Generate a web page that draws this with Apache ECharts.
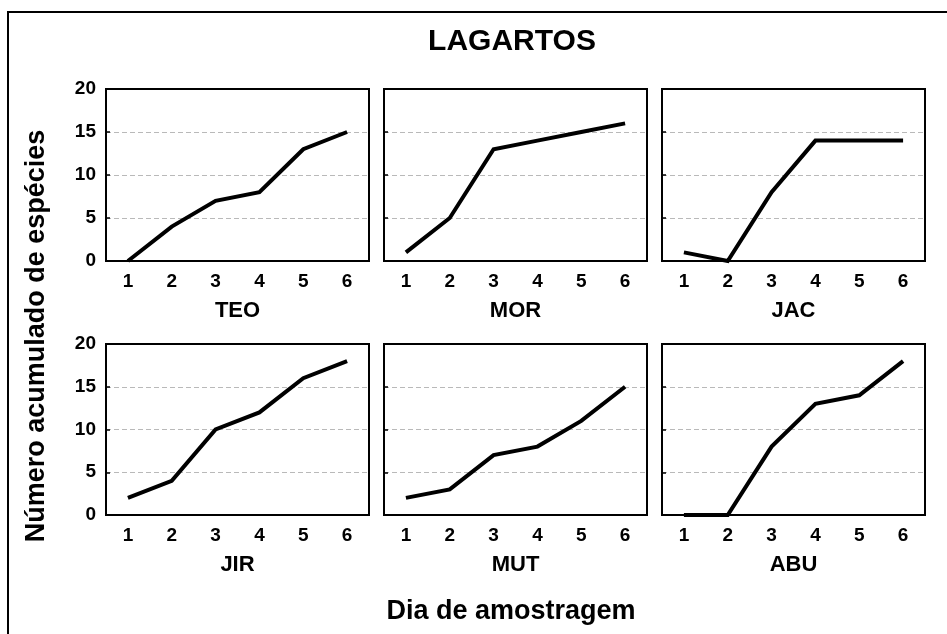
<!DOCTYPE html>
<html>
<head>
<meta charset="utf-8">
<title>LAGARTOS</title>
<script src="https://cdn.jsdelivr.net/npm/echarts@6/dist/echarts.min.js"></script>
<style>
  html, body { margin: 0; padding: 0; background: #fff; }
  #chart { width: 947px; height: 634px; }
</style>
</head>
<body>
<div id="chart"></div>
<script>
// Sampling days (x categories) and the six sites
const days = ['1', '2', '3', '4', '5', '6'];
const sites = ['TEO', 'MOR', 'JAC', 'JIR', 'MUT', 'ABU'];

// Cumulative number of lizard species per sampling day
const teo = [0, 4, 7, 8, 13, 15];
const mor = [1, 5, 13, 14, 15, 16];
const jac = [1, 0, 8, 14, 14, 14];
const jir = [2, 4, 10, 12, 16, 18];
const mut = [2, 3, 7, 8, 11, 15];
const abu = [0, 0, 8, 13, 14, 18];

// Y axis scale
const yMin = 0;
const yMax = 20;
const yStep = 5;

const title = 'LAGARTOS';
const xTitle = 'Dia de amostragem';
const yTitle = 'Número acumulado de espécies';

const values = [teo, mor, jac, jir, mut, abu];

const FONT = '"Liberation Sans", Arial, Helvetica, sans-serif';
const colLeft = [106, 384, 662];
const rowTop = [89, 344];
const panelW = 263;
const panelH = 172;

const grids = [], xAxes = [], yAxes = [], series = [];
sites.forEach((name, i) => {
  const col = i % 3, row = Math.floor(i / 3);
  grids.push({
    left: colLeft[col], top: rowTop[row], width: panelW, height: panelH - row,
    show: true, borderColor: '#000', borderWidth: 2, backgroundColor: 'transparent'
  });
  xAxes.push({
    type: 'category', gridIndex: i, data: days, boundaryGap: true,
    axisLine: { show: true, lineStyle: { color: '#000', width: 2 } },
    axisTick: { show: false },
    axisLabel: { color: '#000', fontFamily: FONT, fontWeight: 'bold', fontSize: 19, margin: 11 },
    splitLine: { show: false },
    name: name, nameLocation: 'middle', nameGap: 39,
    nameTextStyle: { color: '#000', fontFamily: FONT, fontWeight: 'bold', fontSize: 22 }
  });
  yAxes.push({
    type: 'value', gridIndex: i, min: yMin, max: yMax, interval: yStep,
    axisLine: { show: true, lineStyle: { color: '#000', width: 2 } },
    axisTick: { show: true, inside: true, length: 4, lineStyle: { color: '#000', width: 1.5 } },
    axisLabel: { show: col === 0, color: '#000', fontFamily: FONT, fontWeight: 'bold', fontSize: 19, margin: 10 },
    splitLine: {
      show: true,
      lineStyle: {
        color: ['rgba(0,0,0,0)', '#b9b9b9', '#b9b9b9', '#b9b9b9', 'rgba(0,0,0,0)'],
        type: [5, 3], width: 1
      }
    }
  });
  series.push({
    type: 'line', name: name, xAxisIndex: i, yAxisIndex: i,
    data: values[i], symbol: 'none', clip: false,
    lineStyle: { color: '#000', width: 4, cap: 'butt', join: 'miter' }
  });
});

const chart = echarts.init(document.getElementById('chart'), null, { renderer: 'canvas' });
chart.setOption({
  backgroundColor: '#fff',
  animation: false,
  grid: grids,
  xAxis: xAxes,
  yAxis: yAxes,
  series: series,
  graphic: [
    {
      type: 'rect', silent: true,
      shape: { x: 8, y: 12, width: 1000, height: 700 },
      style: { fill: 'none', stroke: '#000', lineWidth: 2 }
    },
    {
      type: 'text', x: 512, y: 42, silent: true,
      style: { text: title, fill: '#000', font: 'bold 30px ' + FONT, textAlign: 'center', textVerticalAlign: 'middle' }
    },
    {
      type: 'text', x: 511, y: 612, silent: true,
      style: { text: xTitle, fill: '#000', font: 'bold 27px ' + FONT, textAlign: 'center', textVerticalAlign: 'middle' }
    },
    {
      type: 'text', x: 37, y: 336, rotation: Math.PI / 2, silent: true,
      style: { text: yTitle, fill: '#000', font: 'bold 27px ' + FONT, textAlign: 'center', textVerticalAlign: 'middle' }
    }
  ]
});
</script>
</body>
</html>
